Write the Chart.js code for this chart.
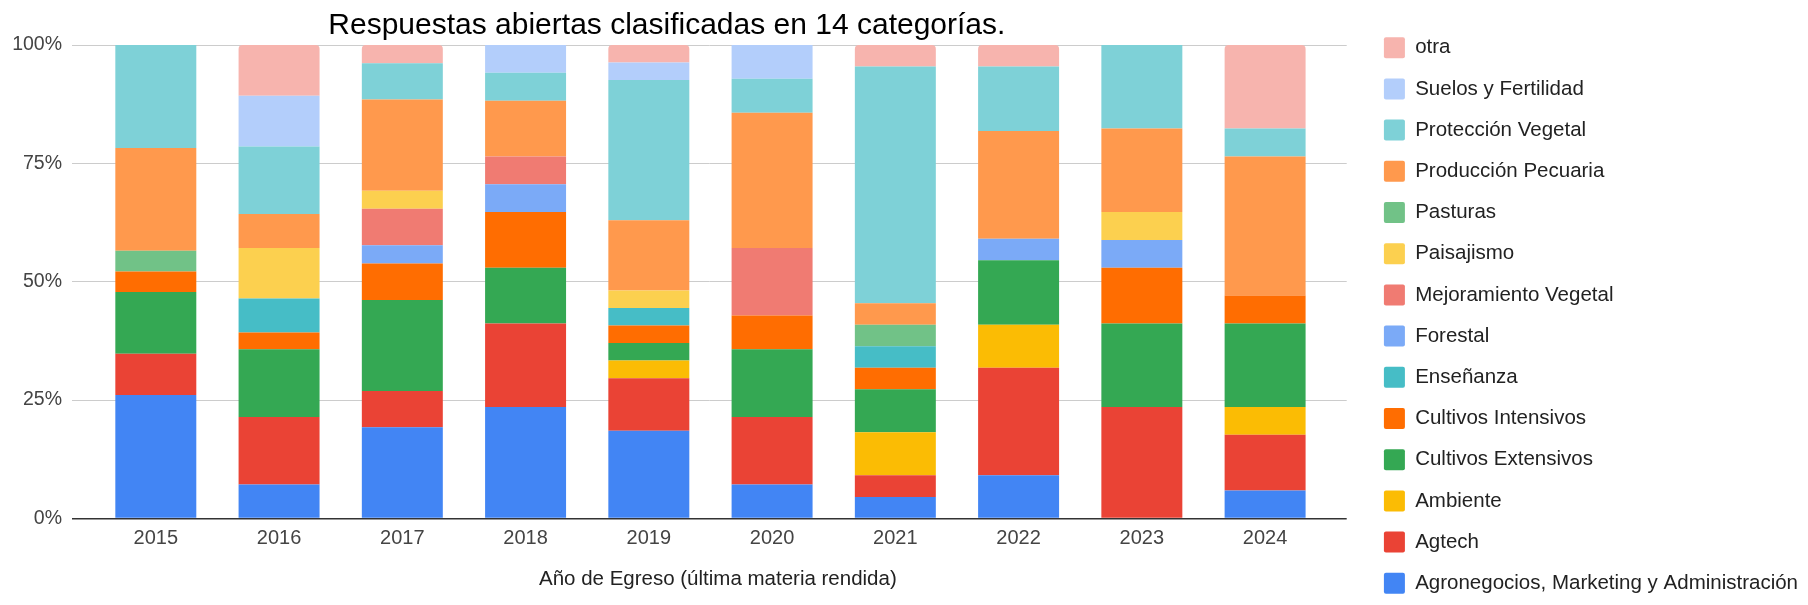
<!DOCTYPE html>
<html>
<head>
<meta charset="utf-8">
<title>Respuestas abiertas clasificadas</title>
<script src="https://cdn.jsdelivr.net/npm/chart.js@4.4.1/dist/chart.umd.min.js"></script>
<style>
  body { margin: 0; background: #fff; }
  .wrap { position: relative; width: 1808px; height: 605px; }
</style>
</head>
<body>
<div class="wrap"><canvas id="chart"></canvas></div>
<script>
let years = ['2015', '2016', '2017', '2018', '2019', '2020', '2021', '2022', '2023', '2024'];

// categories, bottom of the stack first
let categories = [
    'Agronegocios, Marketing y Administración',
    'Agtech',
    'Ambiente',
    'Cultivos Extensivos',
    'Cultivos Intensivos',
    'Enseñanza',
    'Forestal',
    'Mejoramiento Vegetal',
    'Paisajismo',
    'Pasturas',
    'Producción Pecuaria',
    'Protección Vegetal',
    'Suelos y Fertilidad',
    'otra'
];

let colors = [
    '#4285F4', '#EA4335', '#FBBC04', '#34A853', '#FF6D01', '#46BDC6', '#7BAAF7',
    '#F07B72', '#FCD04F', '#71C287', '#FF994D', '#7ED1D7', '#B3CEFB', '#F7B4AE'
];

let agronegocios = [6, 2, 5, 4, 5, 1, 1, 2, 0, 1];
let agtech       = [2, 4, 2, 3, 3, 2, 1, 5, 4, 2];
let ambiente     = [0, 0, 0, 0, 1, 0, 2, 2, 0, 1];
let extensivos   = [3, 4, 5, 2, 1, 2, 2, 3, 3, 3];
let intensivos   = [1, 1, 2, 2, 1, 1, 1, 0, 2, 1];
let ensenanza    = [0, 2, 0, 0, 1, 0, 1, 0, 0, 0];
let forestal     = [0, 0, 1, 1, 0, 0, 0, 1, 1, 0];
let mejoramiento = [0, 0, 2, 1, 0, 2, 0, 0, 0, 0];
let paisajismo   = [0, 3, 1, 0, 1, 0, 0, 0, 1, 0];
let pasturas     = [1, 0, 0, 0, 0, 0, 1, 0, 0, 0];
let pecuaria     = [5, 2, 5, 2, 4, 4, 1, 5, 3, 5];
let proteccion   = [5, 4, 2, 1, 8, 1, 11, 3, 3, 1];
let suelos       = [0, 3, 0, 1, 1, 1, 0, 0, 0, 0];
let otra         = [0, 3, 1, 0, 1, 0, 1, 1, 0, 3];

let yTicks = [0, 25, 50, 75, 100];

let series = [agronegocios, agtech, ambiente, extensivos, intensivos, ensenanza, forestal,
    mejoramiento, paisajismo, pasturas, pecuaria, proteccion, suelos, otra];

let totals = years.map((y, i) => series.reduce((s, arr) => s + arr[i], 0));

let font = "'Liberation Sans', Arial, sans-serif";
Chart.defaults.font.family = font;

let datasets = series.map((arr, k) => ({
    label: categories[k],
    data: arr.map((v, i) => ({ x: i, y: v / totals[i] * 100 })),
    backgroundColor: colors[k],
    borderWidth: 0,
    borderRadius: categories[k] == 'otra' ? { topLeft: 4, topRight: 4, bottomLeft: 0, bottomRight: 0 } : 0,
    borderSkipped: 'start',
    barPercentage: 0.657,
    categoryPercentage: 1
}));

// google-style placement: title a bit left of centre, legend a bit lower,
// grid lines stopping short of the legend
let nudge = {
    id: 'nudge',
    afterLayout(chart) {
        chart.titleBlock.left -= 51;
        chart.titleBlock.right -= 51;
        chart.legend.top += 17;
        chart.legend.bottom += 17;
        chart.chartArea.right -= 17;
    }
};

new Chart(document.getElementById('chart'), {
    type: 'bar',
    data: { datasets: datasets },
    plugins: [nudge],
    options: {
        responsive: true,
        maintainAspectRatio: false,
        animation: false,
        layout: { padding: 0 },
        plugins: {
            title: {
                display: true,
                text: 'Respuestas abiertas clasificadas en 14 categorías.',
                fullSize: false,
                color: '#000',
                font: { size: 30, weight: 'normal', lineHeight: 1.2 },
                padding: { top: 8, bottom: 1 }
            },
            legend: {
                position: 'right',
                align: 'start',
                reverse: true,
                labels: {
                    boxWidth: 21,
                    boxHeight: 21,
                    padding: 20.2,
                    color: '#222',
                    useBorderRadius: true,
                    borderRadius: 2,
                    font: { size: 20.5 }
                }
            },
            tooltip: { enabled: false }
        },
        scales: {
            x: {
                type: 'linear',
                stacked: true,
                offset: false,
                min: -0.68,
                max: 9.8,
                grid: { display: false, drawTicks: false },
                border: { display: false },
                afterBuildTicks: s => { s.ticks = years.map((y, i) => ({ value: i })); },
                ticks: {
                    padding: 8,
                    color: '#444',
                    font: { size: 20 },
                    callback: v => years[v]
                },
                title: {
                    display: true,
                    text: 'Año de Egreso (última materia rendida)',
                    color: '#222',
                    font: { size: 20.5 },
                    padding: { top: 9, bottom: 13 }
                }
            },
            y: {
                stacked: true,
                min: 0,
                max: 100,
                afterFit: s => { s.width = 72; },
                afterBuildTicks: s => { s.ticks = yTicks.map(v => ({ value: v })); },
                grid: {
                    drawTicks: false,
                    color: c => c.tick && c.tick.value == 0 ? '#333' : '#ccc',
                    lineWidth: c => c.tick && c.tick.value == 0 ? 1.5 : 1
                },
                border: { display: false },
                ticks: {
                    padding: 10,
                    color: '#444',
                    font: { size: 19.5 },
                    callback: v => v + '%'
                }
            }
        }
    }
});
</script>
</body>
</html>
